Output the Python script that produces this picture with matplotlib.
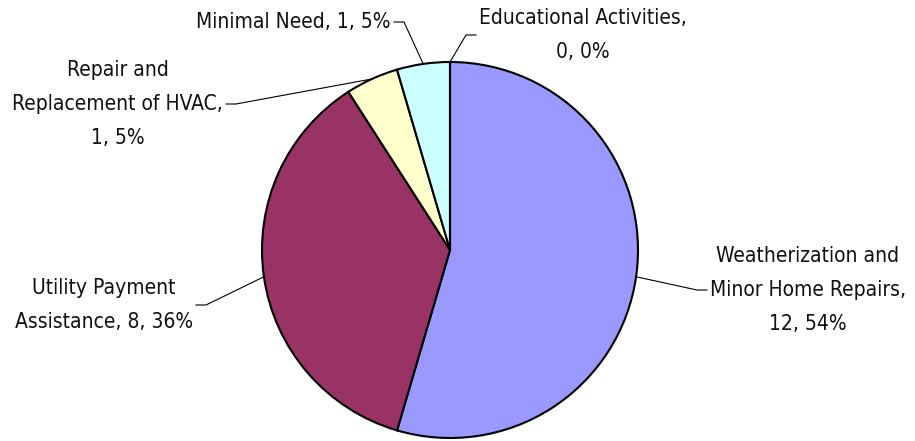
import matplotlib
matplotlib.use('Agg')
import matplotlib.pyplot as plt
import numpy as np

plt.rcParams['font.family'] = ['DejaVu Sans']
plt.rcParams['font.stretch'] = 'condensed'

# data
labels = ['Weatherization and\nMinor Home Repairs,\n12, 54%',
          'Utility Payment\nAssistance, 8, 36%',
          'Repair and\nReplacement of HVAC,\n1, 5%',
          'Minimal Need, 1, 5%',
          'Educational Activities,\n0, 0%']
values = [12, 8, 1, 1, 0]
colors = ['#9999FF', '#993366', '#FFFFCC', '#CCFFFF', '#FFFFFF']

# label layout in pixels (y from top): end of leader at text, side of text
label_pos = [(707, 290, 'left'), (196, 305, 'right'), (226, 104, 'right'),
             (394, 22, 'right'), (476, 35, 'left')]

W, H = 915, 441
fig = plt.figure(figsize=(W / 100, H / 100), dpi=100)
ax = fig.add_axes([0, 0, 1, 1])

cx, cy, r = 450, H - 250, 188
wedges, _ = ax.pie(values, colors=colors, startangle=90, counterclock=False,
                   center=(cx, cy), radius=r, frame=True,
                   wedgeprops=dict(edgecolor='black', linewidth=1.5))
ax.set_xlim(0, W)
ax.set_ylim(0, H)
ax.set_aspect('equal')
ax.axis('off')

for w, txt, (tx, ty, ha) in zip(wedges, labels, label_pos):
    ang = np.deg2rad((w.theta1 + w.theta2) / 2)
    px, py = cx + r * np.cos(ang), cy + r * np.sin(ang)
    ty2 = H - ty
    ex = tx - 10 if ha == 'left' else tx + 10
    ax.plot([tx, ex, px], [ty2, ty2, py], color='black', lw=0.8)
    ax.text(tx + (3 if ha == 'left' else -3), ty2, txt, ha=ha, va='center',
            multialignment='center', fontsize=15, linespacing=1.9,
            color='#111111')

fig.savefig('out.png', dpi=100)
